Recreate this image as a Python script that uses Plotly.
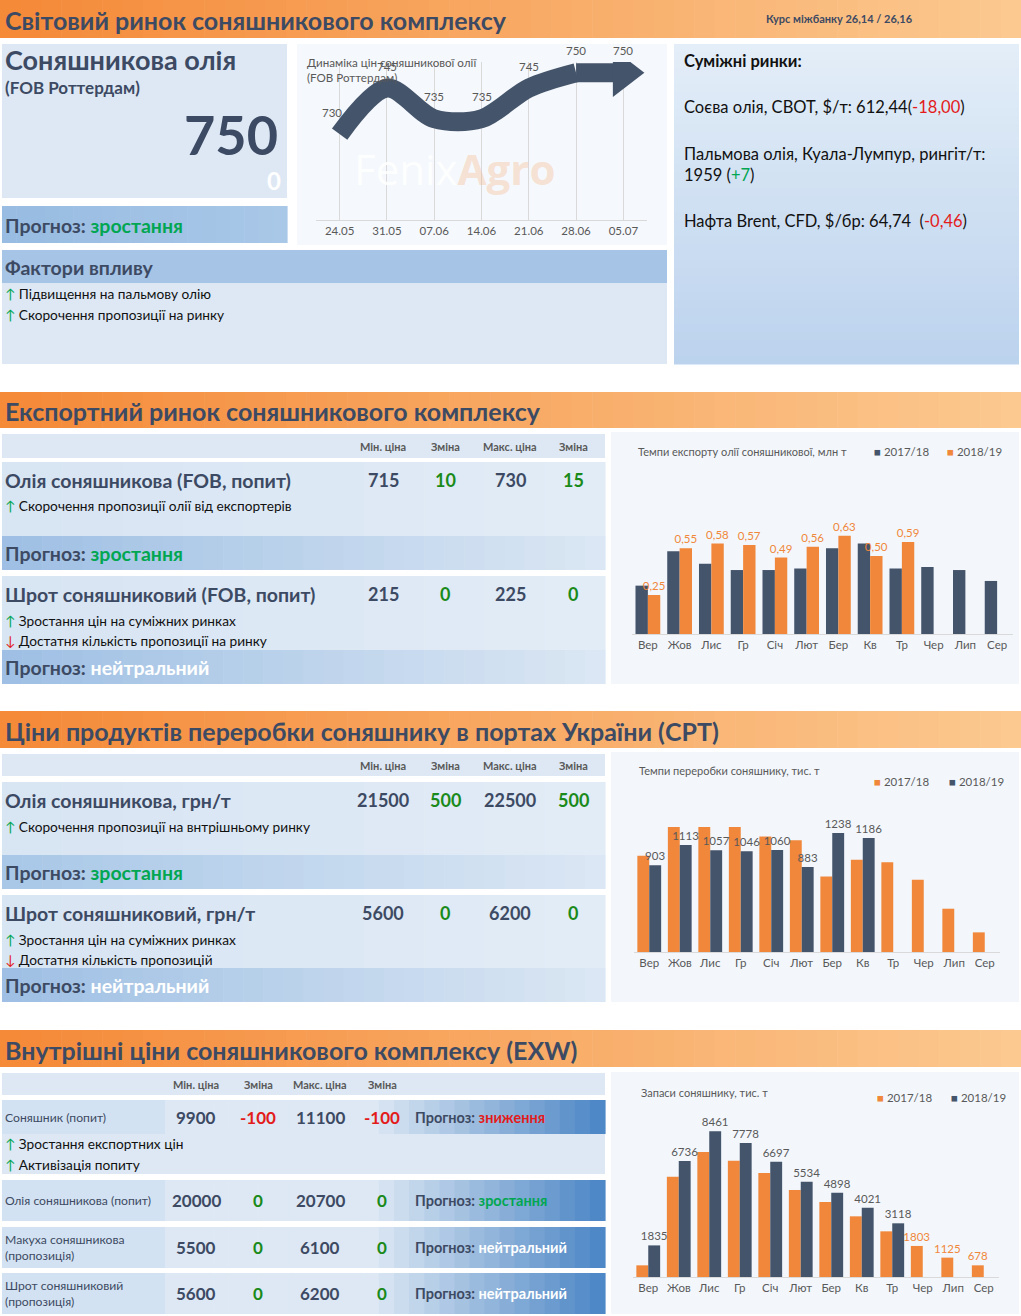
import plotly.graph_objects as go

W, H = 1021, 1316
FONT = "Lato"
DARK = "#3d4a63"
GREEN = "#00a651"
DGREEN = "#1a8a1a"
RED = "#e31b1b"
ORANGE = "#f0873a"
NAVY = "#44546a"
GRAY = "#595959"

# ---------------- data ----------------
line_dates = ["24.05", "31.05", "07.06", "14.06", "21.06", "28.06", "05.07"]
line_prices = [730, 745, 735, 735, 745, 750, 750]

months = ["Вер", "Жов", "Лис", "Гр", "Січ", "Лют", "Бер", "Кв", "Тр", "Чер", "Лип", "Сер"]
export_1718 = [0.31, 0.53, 0.45, 0.41, 0.41, 0.42, 0.55, 0.58, 0.42, 0.43, 0.41, 0.34]
export_1819 = [0.25, 0.55, 0.58, 0.57, 0.49, 0.56, 0.63, 0.50, 0.59, None, None, None]

proc_1718 = [1000, 1300, 1300, 1300, 1200, 1162, 785, 958, 934, 751, 450, 204]
proc_1819 = [903, 1113, 1057, 1046, 1060, 883, 1238, 1186, None, None, None, None]

stock_1718 = [678, 5828, 7260, 6757, 6040, 5053, 4356, 3524, 2652, 1803, 1125, 678]
stock_1819 = [1835, 6736, 8461, 7778, 6697, 5534, 4898, 4021, 3118, None, None, None]
stock_1718_labels = ["", "", "", "", "", "", "", "", "", "1803", "1125", "678"]

col_headers = ["Мін. ціна", "Зміна", "Макс. ціна", "Зміна"]
export_rows = [("Олія соняшникова (FOB, попит)", ["715", "10", "730", "15"]),
               ("Шрот соняшниковий (FOB, попит)", ["215", "0", "225", "0"])]
cpt_rows = [("Олія соняшникова, грн/т", ["21500", "500", "22500", "500"]),
            ("Шрот соняшниковий, грн/т", ["5600", "0", "6200", "0"])]
exw_rows = [("Соняшник (попит)", ["9900", "-100", "11100", "-100"], "зниження"),
            ("Олія соняшникова (попит)", ["20000", "0", "20700", "0"], "зростання"),
            ("Макуха соняшникова<br>(пропозиція)", ["5500", "0", "6100", "0"], "нейтральний"),
            ("Шрот соняшниковий<br>(пропозиція)", ["5600", "0", "6200", "0"], "нейтральний")]

# ---------------- helpers ----------------
shapes, ann = [], []

def px(x): return x / W
def py(y): return 1 - y / H

def rect(x0, y0, x1, y1, color):
    shapes.append(dict(type="rect", xref="paper", yref="paper", x0=px(x0), x1=px(x1),
                       y0=py(y1), y1=py(y0), fillcolor=color, line=dict(width=0), layer="below"))

def hexrgb(c):
    c = c.lstrip("#"); return [int(c[i:i+2], 16) for i in (0, 2, 4)]

def mix(c0, c1, t):
    a, b = hexrgb(c0), hexrgb(c1)
    return "#%02x%02x%02x" % tuple(int(a[i] + (b[i] - a[i]) * t) for i in range(3))

def grad(x0, y0, x1, y1, c0, c1, n=40, vertical=False, start=0.0):
    for i in range(n):
        t = i / (n - 1)
        tt = 0 if t < start else (t - start) / (1 - start)
        col = mix(c0, c1, tt)
        if vertical:
            a = y0 + (y1 - y0) * i / n; b = y0 + (y1 - y0) * (i + 1) / n + 0.6
            rect(x0, a, x1, b, col)
        else:
            a = x0 + (x1 - x0) * i / n; b = x0 + (x1 - x0) * (i + 1) / n + 0.6
            rect(a, y0, b, y1, col)

def text(x, y, s, size=12, color=DARK, bold=False, xa="left", ya="middle"):
    if bold: s = "<b>" + s + "</b>"
    ann.append(dict(x=px(x), y=py(y), xref="paper", yref="paper", text=s, showarrow=False,
                    xanchor=xa, yanchor=ya, align="left", borderpad=0,
                    font=dict(family=FONT, size=size, color=color)))

def up(s): return "<span style='color:%s'>↑</span> %s" % (GREEN, s)
def down(s): return "<span style='color:%s'>↓</span> %s" % (RED, s)

def header(y0, y1, title):
    grad(0, y0, 1021, y1, "#f58a39", "#fcc990", n=50)
    text(4, (y0 + y1) / 2 + 1, title, size=25, bold=True)

def prog(word, color):
    return "<b>Прогноз: <span style='color:%s'>%s</span></b>" % (color, word)

BUL = 13.7

# ---------------- section 1 ----------------
header(0, 38, "Світовий ринок соняшникового комплексу")
text(765, 19, "Курс міжбанку 26,14 / 26,16", size=11, bold=True)

rect(2, 44, 287, 198, "#dde8f4")
text(4, 59, "Соняшникова олія", size=27, bold=True)
text(4, 88, "(FOB Роттердам)", size=17, bold=True)
text(279, 135, "750", size=54, bold=True, xa="right")
text(282, 180, "0", size=24, bold=True, color="white", xa="right")
grad(2, 206, 287, 243, "#98bce2", "#a9c8e8", n=20)
text(4, 225, prog("зростання", GREEN), size=19.5)

rect(297, 44, 667, 245, "#f5f8fc")
text(306, 70, "Динаміка цін соняшникової олії<br>(FOB Роттердам)", size=11.6, color=GRAY)
ann.append(dict(x=px(352), y=py(138), xref="paper", yref="paper", showarrow=False, xanchor="left",
                text="<span style='color:rgba(255,255,255,0.9)'>Fenix</span><b><span style='color:rgba(248,170,110,0.3)'>Agro</span></b>",
                font=dict(family="Open Sans", size=42)))

rect(2, 250, 667, 283, "#a6c4e6")
text(4, 267, "Фактори впливу", size=19.5, bold=True)
rect(2, 283, 667, 364, "#dde8f4")
text(4, 293, up("Підвищення на пальмову олію"), size=BUL, color="#111")
text(4, 314, up("Скорочення пропозиції на ринку"), size=BUL, color="#111")

grad(674, 44, 1019, 364, "#e4eef8", "#bcd3ee", n=40, vertical=True)
text(683, 61, "Суміжні ринки:", size=16.5, bold=True, color="#111")
text(683, 107, "Соєва олія, СВОТ, $/т: 612,44(<span style='color:%s'>-18,00</span>)" % RED, size=16.5, color="#111")
text(683, 164, "Пальмова олія, Куала-Лумпур, рингіт/т:<br>1959 (<span style='color:%s'>+7</span>)" % GREEN, size=16.5, color="#111")
text(683, 221, "Нафта Brent, CFD, $/бр: 64,74  (<span style='color:%s'>-0,46</span>)" % RED, size=16.5, color="#111")

# ---------------- section 2 ----------------
header(392, 428, "Експортний ринок соняшникового комплексу")
colx = [383, 445, 510, 573]
rect(2, 434, 605, 458, "#dde8f4")
for cx, h in zip(colx, col_headers):
    text(cx, 446, h, size=11, color=GRAY, xa="center", bold=True)

def block(y0, y1, name, vals, bullets, valcols):
    grad(2, y0, 605, y1, "#d8e5f3", "#e2ecf7", n=10)
    text(4, y0 + 18, name, size=19.5, bold=True)
    for cx, v, c in zip(colx, vals, valcols):
        text(cx, y0 + 18, v, size=18, bold=True, color=c, xa="center")
    for i, b in enumerate(bullets):
        text(4, y0 + 44 + 20 * i, b, size=BUL, color="#111")

block(462, 536, export_rows[0][0], export_rows[0][1],
      [up("Скорочення пропозиції олії від експортерів")], [DARK, DGREEN, DARK, DGREEN])
grad(2, 536, 605, 570, "#9fc0e4", "#dbe7f4", n=30)
text(4, 553, prog("зростання", GREEN), size=19.5)
block(576, 650, export_rows[1][0], export_rows[1][1],
      [up("Зростання цін на суміжних ринках"), down("Достатня кількість пропозиції на ринку")],
      [DARK, DGREEN, DARK, DGREEN])
grad(2, 650, 605, 684, "#9fc0e4", "#dbe7f4", n=30)
text(4, 667, prog("нейтральний", "white"), size=19.5)
rect(611, 432, 1019, 684, "#f3f7fc")
text(637, 451, "Темпи експорту олії соняшникової, млн т", size=11, color=GRAY)
text(873, 451, "<span style='color:%s'>■</span> 2017/18" % NAVY, size=11.5, color=GRAY)
text(946, 451, "<span style='color:%s'>■</span> 2018/19" % ORANGE, size=11.5, color=GRAY)

# ---------------- section 3 ----------------
header(711, 748, "Ціни продуктів переробки соняшнику в портах України (CPT)")
rect(2, 754, 605, 776, "#dde8f4")
for cx, h in zip(colx, col_headers):
    text(cx, 765, h, size=11, color=GRAY, xa="center", bold=True)
block(782, 855, cpt_rows[0][0], cpt_rows[0][1],
      [up("Скорочення пропозиції на внтрішньому ринку")], [DARK, DGREEN, DARK, DGREEN])
grad(2, 855, 605, 889, "#a9c8e8", "#dbe7f4", n=30)
text(4, 872, prog("зростання", GREEN), size=19.5)
block(895, 968, cpt_rows[1][0], cpt_rows[1][1],
      [up("Зростання цін на суміжних ринках"), down("Достатня кількість пропозицій")],
      [DARK, DGREEN, DARK, DGREEN])
grad(2, 968, 605, 1002, "#9fc0e4", "#dbe7f4", n=30)
text(4, 985, prog("нейтральний", "white"), size=19.5)
rect(611, 752, 1019, 1002, "#f3f7fc")
text(638, 770, "Темпи переробки соняшнику, тис. т", size=11, color=GRAY)
text(873, 781, "<span style='color:%s'>■</span> 2017/18" % ORANGE, size=11.5, color=GRAY)
text(948, 781, "<span style='color:%s'>■</span> 2018/19" % NAVY, size=11.5, color=GRAY)

# ---------------- section 4 ----------------
header(1030, 1067, "Внутрішні ціни соняшникового комплексу (EXW)")
colx4 = [196, 258, 320, 382]
rect(2, 1073, 605, 1095, "#dde8f4")
for cx, h in zip(colx4, col_headers):
    text(cx, 1084, h, size=11, color=GRAY, xa="center", bold=True)
rowy = [(1100, 1134), (1180, 1221), (1227, 1268), (1273, 1314)]
for (y0, y1), (name, vals, fc) in zip(rowy, exw_rows):
    grad(2, y0, 605, y1, "#dde8f4", "#4f88c6", n=40, start=0.62)
    rect(2, y0, 165, y1, "#d3e2f2")
    text(4, (y0 + y1) / 2, name, size=12.2)
    cols = [DARK, RED if vals[1].startswith("-") else DGREEN, DARK, RED if vals[3].startswith("-") else DGREEN]
    for cx, v, c in zip(colx4, vals, cols):
        text(cx, (y0 + y1) / 2, v, size=17, bold=True, color=c, xa="center")
    fcol = {"зниження": RED, "зростання": GREEN, "нейтральний": "white"}[fc]
    text(414, (y0 + y1) / 2, prog(fc, fcol), size=14.5)
rect(2, 1134, 605, 1174, "#dde8f4")
text(4, 1143, up("Зростання експортних цін"), size=BUL, color="#111")
text(4, 1164, up("Активізація попиту"), size=BUL, color="#111")
rect(611, 1072, 1019, 1314, "#f3f7fc")
text(640, 1092, "Запаси соняшнику, тис. т", size=11, color=GRAY)
text(876, 1097, "<span style='color:%s'>■</span> 2017/18" % ORANGE, size=11.5, color=GRAY)
text(950, 1097, "<span style='color:%s'>■</span> 2018/19" % NAVY, size=11.5, color=GRAY)

# line chart value labels, placed via the data axes (category index)
for i, v in enumerate(line_prices):
    ann.append(dict(x=i, y=v, xref="x", yref="y", text=str(v), showarrow=False,
                    xshift=-8 if i == 0 else 0, yshift=22, font=dict(family=FONT, size=11.5, color=GRAY)))

# ---------------- traces ----------------
fig = go.Figure()
tf = dict(family=FONT, size=11.5, color=GRAY)

fig.add_trace(go.Scatter(x=line_dates[:-1], y=line_prices[:-1], mode="lines",
                         line=dict(color=NAVY, width=19, shape="spline", smoothing=0.9),
                         xaxis="x", yaxis="y", showlegend=False, hoverinfo="skip"))
fig.add_trace(go.Scatter(x=line_dates[-2:], y=line_prices[-2:], mode="lines",
                         line=dict(color=NAVY, width=19),
                         xaxis="x", yaxis="y", showlegend=False, hoverinfo="skip"))
fig.add_trace(go.Scatter(x=line_dates[-1:], y=line_prices[-1:], mode="markers",
                         marker=dict(symbol="triangle-right", size=42, color=NAVY),
                         xaxis="x", yaxis="y", showlegend=False))

fig.add_trace(go.Bar(x=months, y=export_1718, marker_color=NAVY, xaxis="x2", yaxis="y2", showlegend=False))
fig.add_trace(go.Bar(x=months, y=export_1819, marker_color=ORANGE, xaxis="x2", yaxis="y2", showlegend=False,
                     texttemplate="%{y:.2f}", textposition="outside", constraintext="none",
                     textfont=dict(family=FONT, size=11.5, color=ORANGE), cliponaxis=False))

fig.add_trace(go.Bar(x=months, y=proc_1718, marker_color=ORANGE, xaxis="x3", yaxis="y3", showlegend=False))
fig.add_trace(go.Bar(x=months, y=proc_1819, marker_color=NAVY, xaxis="x3", yaxis="y3", showlegend=False,
                     texttemplate="%{y}", textposition="outside", constraintext="none",
                     textfont=tf, cliponaxis=False))

fig.add_trace(go.Bar(x=months, y=stock_1718, marker_color=ORANGE, xaxis="x4", yaxis="y4", showlegend=False,
                     text=stock_1718_labels, textposition="outside", constraintext="none",
                     textfont=dict(family=FONT, size=11.5, color=ORANGE), cliponaxis=False))
fig.add_trace(go.Bar(x=months, y=stock_1819, marker_color=NAVY, xaxis="x4", yaxis="y4", showlegend=False,
                     texttemplate="%{y}", textposition="outside", constraintext="none",
                     textfont=tf, cliponaxis=False))

def xax(d0, d1, n, grid=False):
    return dict(domain=[px(d0), px(d1)], type="category", range=[-0.5, n - 0.5], showgrid=grid,
                gridcolor="#d9d9d9", showline=True, linecolor="#d9d9d9", tickangle=0, automargin=False,
                ticks="", tickfont=dict(family=FONT, size=11.5, color=GRAY), fixedrange=True, zeroline=False)

def yax(top, bot, rng, anchor, grid=False, dtick=None):
    d = dict(domain=[py(bot), py(top)], range=rng, visible=True, showticklabels=False, showline=False,
             showgrid=grid, gridcolor="#e3e3e3", zeroline=False, anchor=anchor, fixedrange=True,
             automargin=False)
    if dtick: d["dtick"] = dtick
    return d

fig.update_layout(
    template="none",
    width=W, height=H, margin=dict(l=0, r=0, t=0, b=0, pad=0), autosize=False,
    paper_bgcolor="white", plot_bgcolor="rgba(0,0,0,0)", separators=", ",
    barmode="group", bargap=0.22, bargroupgap=0, hovermode=False,
    xaxis=dict(xax(316, 647, 7, grid=True), anchor="y"),
    yaxis=yax(62, 220, [702, 753.5], "x"),
    xaxis2=dict(xax(632, 1013, 12), anchor="y2"),
    yaxis2=yax(478, 634, [0, 1], "x2", grid=True, dtick=1),
    xaxis3=dict(xax(634, 1000, 12), anchor="y3"),
    yaxis3=yax(800, 952, [0, 1580], "x3"),
    xaxis4=dict(xax(633, 999, 12), anchor="y4"),
    yaxis4=yax(1120, 1277, [0, 9118], "x4"),
    shapes=shapes, annotations=ann,
    font=dict(family=FONT),
)
fig.write_html("out.html", config={"displayModeBar": False},
               post_script="document.body.style.margin='0';document.body.style.padding='0';document.documentElement.style.overflow='hidden';")
